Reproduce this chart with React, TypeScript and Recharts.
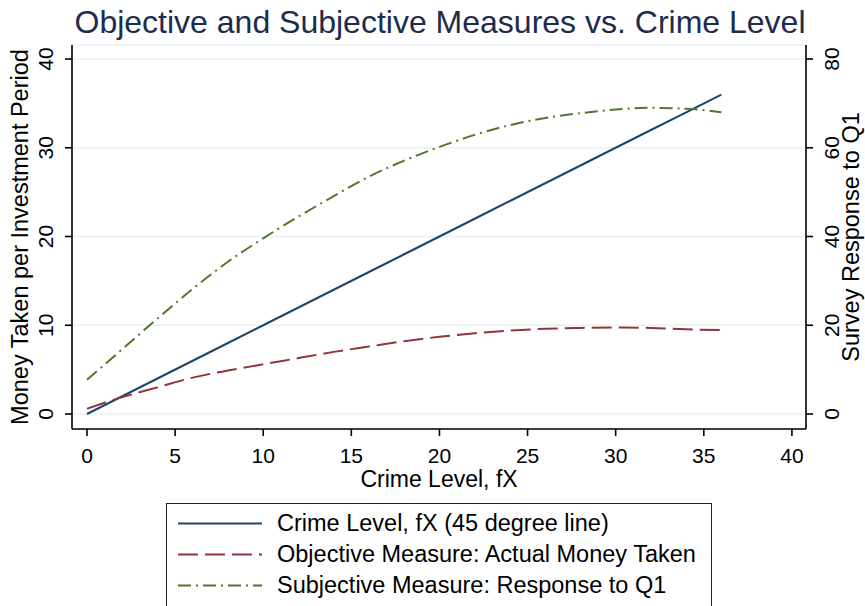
import React from 'react';
import { LineChart, Line, XAxis, YAxis, CartesianGrid, Legend } from 'recharts';

// Crime level (fX) at which each series is evaluated
const crimeLevel = [0, 2, 4, 6, 8, 10, 12, 14, 16, 18, 20, 22, 24, 26, 28, 30, 32, 34, 36];
// 45 degree reference line
const crimeLine = [0, 2, 4, 6, 8, 10, 12, 14, 16, 18, 20, 22, 24, 26, 28, 30, 32, 34, 36];
// Objective measure: money actually taken (left axis)
const objectiveMoney = [0.6, 1.9, 3.0, 4.1, 4.9, 5.6, 6.3, 7.0, 7.6, 8.2, 8.7, 9.1, 9.4, 9.6, 9.7, 9.75, 9.7, 9.55, 9.45];
// Subjective measure: survey response to Q1 (right axis)
const subjectiveQ1 = [7.7, 14.6, 21.5, 28.2, 34.3, 39.6, 44.5, 49.1, 53.5, 57.1, 60.2, 62.9, 65.1, 66.7, 67.8, 68.6, 69.0, 68.8, 68.0];

const xTicks = [0, 5, 10, 15, 20, 25, 30, 35, 40];
const leftTicks = [0, 10, 20, 30, 40];
const rightTicks = [0, 20, 40, 60, 80];

const seriesNames = [
  'Crime Level, fX (45 degree line)',
  'Objective Measure: Actual Money Taken',
  'Subjective Measure: Response to Q1',
];
const seriesKeys = ['fx', 'obj', 'subj'];
const seriesColors = ['#1a476f', '#90353b', '#55752f'];
const seriesDashes = ['', '20 7', '13 5 2 5'];

const data = crimeLevel.map((x, i) => ({
  x,
  fx: crimeLine[i],
  obj: objectiveMoney[i],
  subj: subjectiveQ1[i],
}));

const FONT = '"Liberation Sans", Arial, Helvetica, sans-serif';
const W = 865;
const H = 606;
const PLOT_LEFT = 72;
const PLOT_RIGHT = 806;
const PLOT_TOP = 45;
const PLOT_BOTTOM = 429;
const PLOT_MID_Y = (PLOT_TOP + PLOT_BOTTOM) / 2;

const RotatedTick = (props: any) => {
  const { x, y, payload, shift = 0 } = props;
  const bx = x + shift;
  return (
    <text
      x={bx}
      y={y}
      transform={`rotate(-90 ${bx} ${y})`}
      textAnchor="middle"
      fontSize={21}
      fontFamily={FONT}
      fill="#000"
    >
      {payload.value}
    </text>
  );
};

const LegendBox = () => (
  <div
    style={{
      position: 'relative',
      width: 546,
      height: 120,
      border: '1.5px solid #222',
      boxSizing: 'border-box',
      background: '#fff',
      fontFamily: FONT,
    }}
  >
    {seriesNames.map((name, i) => (
      <div key={name} style={{ position: 'absolute', left: 0, top: 4 + i * 31, height: 31, width: '100%' }}>
        <svg width={100} height={31} style={{ position: 'absolute', left: 0, top: 0 }}>
          <line
            x1={11}
            x2={95}
            y1={15.5}
            y2={15.5}
            stroke={seriesColors[i]}
            strokeWidth={2}
            strokeDasharray={seriesDashes[i] || undefined}
          />
        </svg>
        <span
          style={{
            position: 'absolute',
            left: 110,
            top: 0,
            lineHeight: '31px',
            fontSize: 23.5,
            color: '#000',
            whiteSpace: 'nowrap',
          }}
        >
          {name}
        </span>
      </div>
    ))}
  </div>
);

export default function App() {
  return (
    <div style={{ position: 'absolute', left: 0, top: 0, width: W, height: H, background: '#fff', overflow: 'hidden' }}>
      <LineChart
        width={W}
        height={H}
        data={data}
        margin={{ top: PLOT_TOP, right: 0, bottom: 137, left: 12 }}
      >
        <CartesianGrid vertical={false} stroke="#eaf2f3" strokeWidth={1.5} />
        <XAxis
          type="number"
          dataKey="x"
          domain={[-0.85, 40.8]}
          ticks={xTicks}
          allowDataOverflow
          height={40}
          axisLine={{ stroke: '#000', strokeWidth: 1.6 }}
          tickLine={{ stroke: '#000', strokeWidth: 1.6 }}
          tickSize={7}
          tickMargin={12}
          tick={{ fill: '#000', fontSize: 21, fontFamily: FONT }}
        />
        <YAxis
          type="number"
          domain={[-1.69, 41.58]}
          ticks={leftTicks}
          allowDataOverflow
          width={60}
          axisLine={{ stroke: '#000', strokeWidth: 1.6 }}
          tickLine={{ stroke: '#000', strokeWidth: 1.6 }}
          tickSize={7}
          tickMargin={12}
          tick={<RotatedTick shift={0} />}
        />
        <YAxis
          yAxisId="right"
          orientation="right"
          type="number"
          domain={[-3.38, 83.16]}
          ticks={rightTicks}
          allowDataOverflow
          width={59}
          axisLine={{ stroke: '#000', strokeWidth: 1.6 }}
          tickLine={{ stroke: '#000', strokeWidth: 1.6 }}
          tickSize={7}
          tickMargin={10}
          tick={<RotatedTick shift={16} />}
        />
        <Line
          dataKey={seriesKeys[0]}
          name={seriesNames[0]}
          type="linear"
          stroke={seriesColors[0]}
          strokeWidth={2}
          dot={false}
          isAnimationActive={false}
        />
        <Line
          dataKey={seriesKeys[1]}
          name={seriesNames[1]}
          type="monotone"
          stroke={seriesColors[1]}
          strokeWidth={2}
          strokeDasharray={seriesDashes[1]}
          dot={false}
          isAnimationActive={false}
        />
        <Line
          dataKey={seriesKeys[2]}
          name={seriesNames[2]}
          yAxisId="right"
          type="monotone"
          stroke={seriesColors[2]}
          strokeWidth={2}
          strokeDasharray={seriesDashes[2]}
          dot={false}
          isAnimationActive={false}
        />
        <Legend
          layout="vertical"
          align="center"
          verticalAlign="middle"
          content={() => <LegendBox />}
          wrapperStyle={{ position: 'absolute', left: 166, top: 503, width: 546, height: 120 }}
        />
      </LineChart>
      <svg
        width={W}
        height={H}
        style={{ position: 'absolute', left: 0, top: 0, pointerEvents: 'none' }}
      >
        <text x={440} y={33} textAnchor="middle" fontSize={32} fontFamily={FONT} fill="#1c2c4c">
          Objective and Subjective Measures vs. Crime Level
        </text>
        <text x={(PLOT_LEFT + PLOT_RIGHT) / 2} y={487} textAnchor="middle" fontSize={23} fontFamily={FONT} fill="#000">
          Crime Level, fX
        </text>
        <text
          x={28}
          y={PLOT_MID_Y}
          transform={`rotate(-90 28 ${PLOT_MID_Y})`}
          textAnchor="middle"
          fontSize={23.5}
          fontFamily={FONT}
          fill="#000"
        >
          Money Taken per Investment Period
        </text>
        <text
          x={859}
          y={PLOT_MID_Y}
          transform={`rotate(-90 859 ${PLOT_MID_Y})`}
          textAnchor="middle"
          fontSize={23.5}
          fontFamily={FONT}
          fill="#000"
        >
          Survey Response to Q1
        </text>
      </svg>
    </div>
  );
}
